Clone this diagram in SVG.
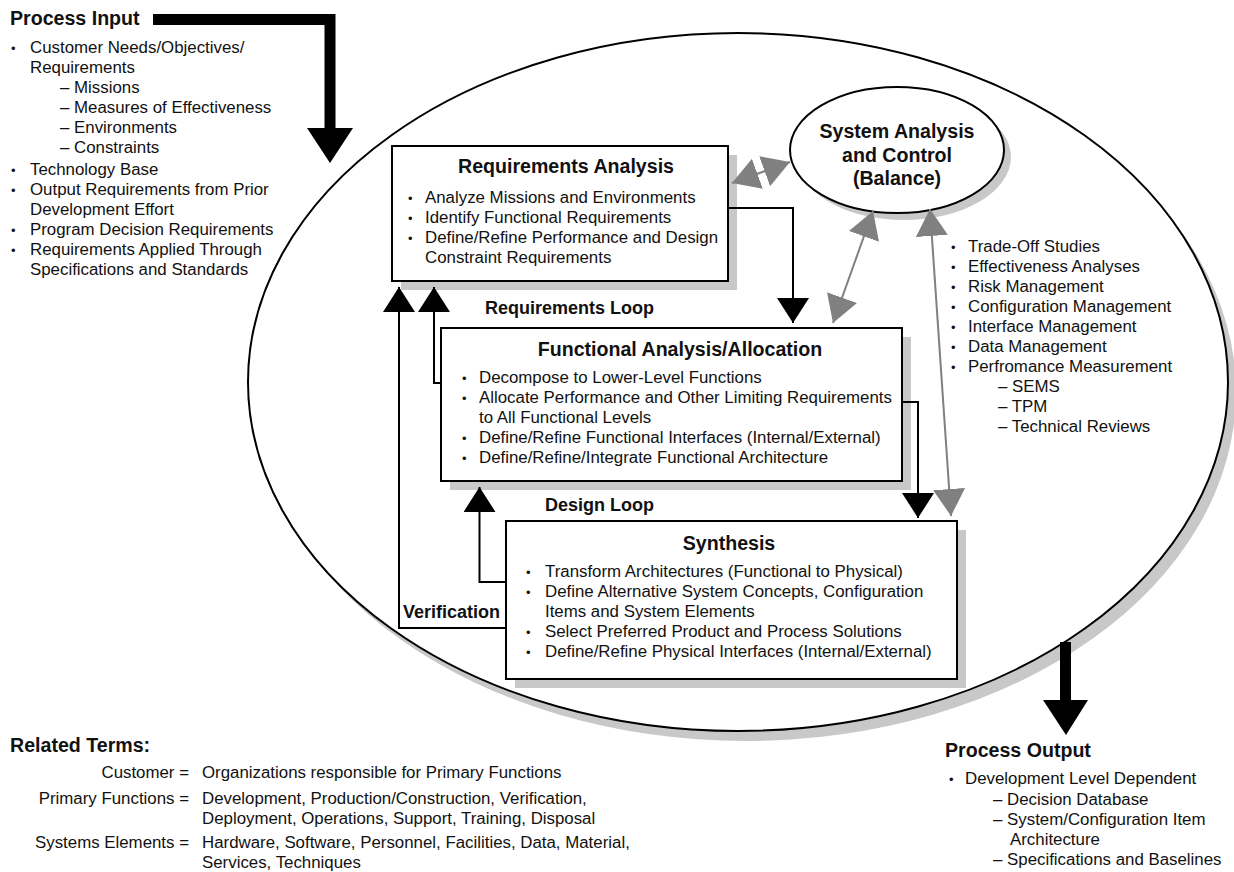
<svg xmlns="http://www.w3.org/2000/svg" width="1234" height="872" viewBox="0 0 1234 872">
  <style>
    text { font-family: "Liberation Sans", Arial, Helvetica, sans-serif; font-size: 16.85px; fill: #111; }
    .h { font-weight: bold; font-size: 19.6px; }
    .lp { font-weight: bold; font-size: 18px; }
    .mid { text-anchor: middle; }
    .end { text-anchor: end; }
    .bul { font-size: 13px; }
    .box { fill: #fff; stroke: #000; stroke-width: 2; }
    .shd { fill: #c8c8c8; }
    .blk { fill: none; stroke: #000; stroke-width: 2; marker-end: url(#ah); }
    .gry { fill: none; stroke: #808080; stroke-width: 2; marker-start: url(#gh); marker-end: url(#gh); }
    .fat { fill: none; stroke: #000; stroke-width: 11; stroke-linejoin: miter; }
  </style>
  <defs>
    <marker id="ah" viewBox="0 0 25 32" refX="25" refY="16" markerWidth="25" markerHeight="32" markerUnits="userSpaceOnUse" orient="auto">
      <path d="M0,0 L25,16 L0,32 Z" fill="#000"/>
    </marker>
    <marker id="gh" viewBox="0 0 27 32" refX="27" refY="16" markerWidth="27" markerHeight="32" markerUnits="userSpaceOnUse" orient="auto-start-reverse">
      <path d="M0,0 L27,16 L0,32 Z" fill="#808080"/>
    </marker>
  </defs>

  <!-- outer process boundary -->
  <g id="process-boundary">
    <ellipse class="shd" cx="746" cy="392" rx="490" ry="349"/>
    <ellipse cx="738" cy="382" rx="490" ry="349" fill="#fff" stroke="#000" stroke-width="2"/>
  </g>

  <!-- process input -->
  <g id="process-input">
    <text x="10" y="25" class="h">Process Input</text>
    <text x="11" y="53"><tspan class="bul">•</tspan><tspan x="30">Customer Needs/Objectives/</tspan></text>
    <text x="30" y="73">Requirements</text>
    <text x="60" y="93">– Missions</text>
    <text x="60" y="113">– Measures of Effectiveness</text>
    <text x="60" y="133">– Environments</text>
    <text x="60" y="153">– Constraints</text>
    <text x="11" y="175"><tspan class="bul">•</tspan><tspan x="30">Technology Base</tspan></text>
    <text x="11" y="195"><tspan class="bul">•</tspan><tspan x="30">Output Requirements from Prior</tspan></text>
    <text x="30" y="215">Development Effort</text>
    <text x="11" y="235"><tspan class="bul">•</tspan><tspan x="30">Program Decision Requirements</tspan></text>
    <text x="11" y="255"><tspan class="bul">•</tspan><tspan x="30">Requirements Applied Through</tspan></text>
    <text x="30" y="275">Specifications and Standards</text>
  </g>

  <!-- requirements analysis -->
  <g id="requirements-analysis">
    <rect class="shd" x="401" y="155" width="336" height="135"/>
    <rect class="box" x="392" y="146" width="336" height="135"/>
    <text x="566" y="173" class="h mid">Requirements Analysis</text>
    <text x="408" y="203"><tspan class="bul">•</tspan><tspan x="425">Analyze Missions and Environments</tspan></text>
    <text x="408" y="223"><tspan class="bul">•</tspan><tspan x="425">Identify Functional Requirements</tspan></text>
    <text x="408" y="243"><tspan class="bul">•</tspan><tspan x="425">Define/Refine Performance and Design</tspan></text>
    <text x="425" y="263">Constraint Requirements</text>
  </g>

  <!-- system analysis and control -->
  <g id="system-analysis-control">
    <ellipse class="shd" cx="904" cy="157" rx="107" ry="63"/>
    <ellipse cx="897" cy="150" rx="107" ry="63" fill="#fff" stroke="#000" stroke-width="2"/>
    <text x="897" y="138" class="h mid">System Analysis</text>
    <text x="897" y="162" class="h mid">and Control</text>
    <text x="897" y="185" class="h mid">(Balance)</text>
  </g>

  <g id="control-activities">
    <text x="951" y="252"><tspan class="bul">•</tspan><tspan x="968">Trade-Off Studies</tspan></text>
    <text x="951" y="272"><tspan class="bul">•</tspan><tspan x="968">Effectiveness Analyses</tspan></text>
    <text x="951" y="292"><tspan class="bul">•</tspan><tspan x="968">Risk Management</tspan></text>
    <text x="951" y="312"><tspan class="bul">•</tspan><tspan x="968">Configuration Management</tspan></text>
    <text x="951" y="332"><tspan class="bul">•</tspan><tspan x="968">Interface Management</tspan></text>
    <text x="951" y="352"><tspan class="bul">•</tspan><tspan x="968">Data Management</tspan></text>
    <text x="951" y="372"><tspan class="bul">•</tspan><tspan x="968">Perfromance Measurement</tspan></text>
    <text x="998" y="392">– SEMS</text>
    <text x="998" y="412">– TPM</text>
    <text x="998" y="432">– Technical Reviews</text>
  </g>

  <!-- functional analysis / allocation -->
  <g id="functional-analysis">
    <rect class="shd" x="450" y="337" width="461" height="153"/>
    <rect class="box" x="441" y="328" width="461" height="153"/>
    <text x="680" y="356" class="h mid">Functional Analysis/Allocation</text>
    <text x="462" y="383"><tspan class="bul">•</tspan><tspan x="479">Decompose to Lower-Level Functions</tspan></text>
    <text x="462" y="403"><tspan class="bul">•</tspan><tspan x="479">Allocate Performance and Other Limiting Requirements</tspan></text>
    <text x="479" y="423">to All Functional Levels</text>
    <text x="462" y="443"><tspan class="bul">•</tspan><tspan x="479">Define/Refine Functional Interfaces (Internal/External)</tspan></text>
    <text x="462" y="463"><tspan class="bul">•</tspan><tspan x="479">Define/Refine/Integrate Functional Architecture</tspan></text>
  </g>

  <!-- synthesis -->
  <g id="synthesis">
    <rect class="shd" x="515" y="530" width="451" height="158"/>
    <rect class="box" x="506" y="521" width="451" height="158"/>
    <text x="729" y="550" class="h mid">Synthesis</text>
    <text x="526" y="577"><tspan class="bul">•</tspan><tspan x="545">Transform Architectures (Functional to Physical)</tspan></text>
    <text x="526" y="597"><tspan class="bul">•</tspan><tspan x="545">Define Alternative System Concepts, Configuration</tspan></text>
    <text x="545" y="617">Items and System Elements</text>
    <text x="526" y="637"><tspan class="bul">•</tspan><tspan x="545">Select Preferred Product and Process Solutions</tspan></text>
    <text x="526" y="657"><tspan class="bul">•</tspan><tspan x="545">Define/Refine Physical Interfaces (Internal/External)</tspan></text>
  </g>

  <!-- flows between activities -->
  <g id="connectors">
    <path class="fat" d="M153,19.5 H330 V131"/>
    <polygon points="307,128 353,128 330,163" fill="#000"/>
    <path class="fat" d="M1065.5,642 V702"/>
    <polygon points="1043,700 1088,700 1066,735" fill="#000"/>

    <path class="blk" d="M728,208 H793 V323"/>
    <path class="blk" d="M902,402 H918 V518"/>
    <path class="blk" d="M441,383 H434 V287"/>
    <path class="blk" d="M506,582 H479.5 V487"/>
    <path class="blk" d="M506,628 H399 V287"/>

    <path class="gry" d="M732,183 L790,162"/>
    <path class="gry" d="M833,323 L873,211"/>
    <path class="gry" d="M930,209 L951,516"/>

    <text x="485" y="314" class="lp">Requirements Loop</text>
    <text x="545" y="511" class="lp">Design Loop</text>
    <text x="403" y="618" class="lp">Verification</text>
  </g>

  <!-- process output -->
  <g id="process-output">
    <text x="945" y="757" class="h">Process Output</text>
    <text x="949" y="784"><tspan class="bul">•</tspan><tspan x="965">Development Level Dependent</tspan></text>
    <text x="993" y="805">– Decision Database</text>
    <text x="993" y="825">– System/Configuration Item</text>
    <text x="1010" y="845">Architecture</text>
    <text x="993" y="865">– Specifications and Baselines</text>
  </g>

  <!-- glossary -->
  <g id="related-terms">
    <text x="10" y="752" class="h">Related Terms:</text>
    <text x="189" y="778" class="end">Customer =</text>
    <text x="202" y="778">Organizations responsible for Primary Functions</text>
    <text x="189" y="804" class="end">Primary Functions =</text>
    <text x="202" y="804">Development, Production/Construction, Verification,</text>
    <text x="202" y="824">Deployment, Operations, Support, Training, Disposal</text>
    <text x="189" y="848" class="end">Systems Elements =</text>
    <text x="202" y="848">Hardware, Software, Personnel, Facilities, Data, Material,</text>
    <text x="202" y="868">Services, Techniques</text>
  </g>
</svg>
